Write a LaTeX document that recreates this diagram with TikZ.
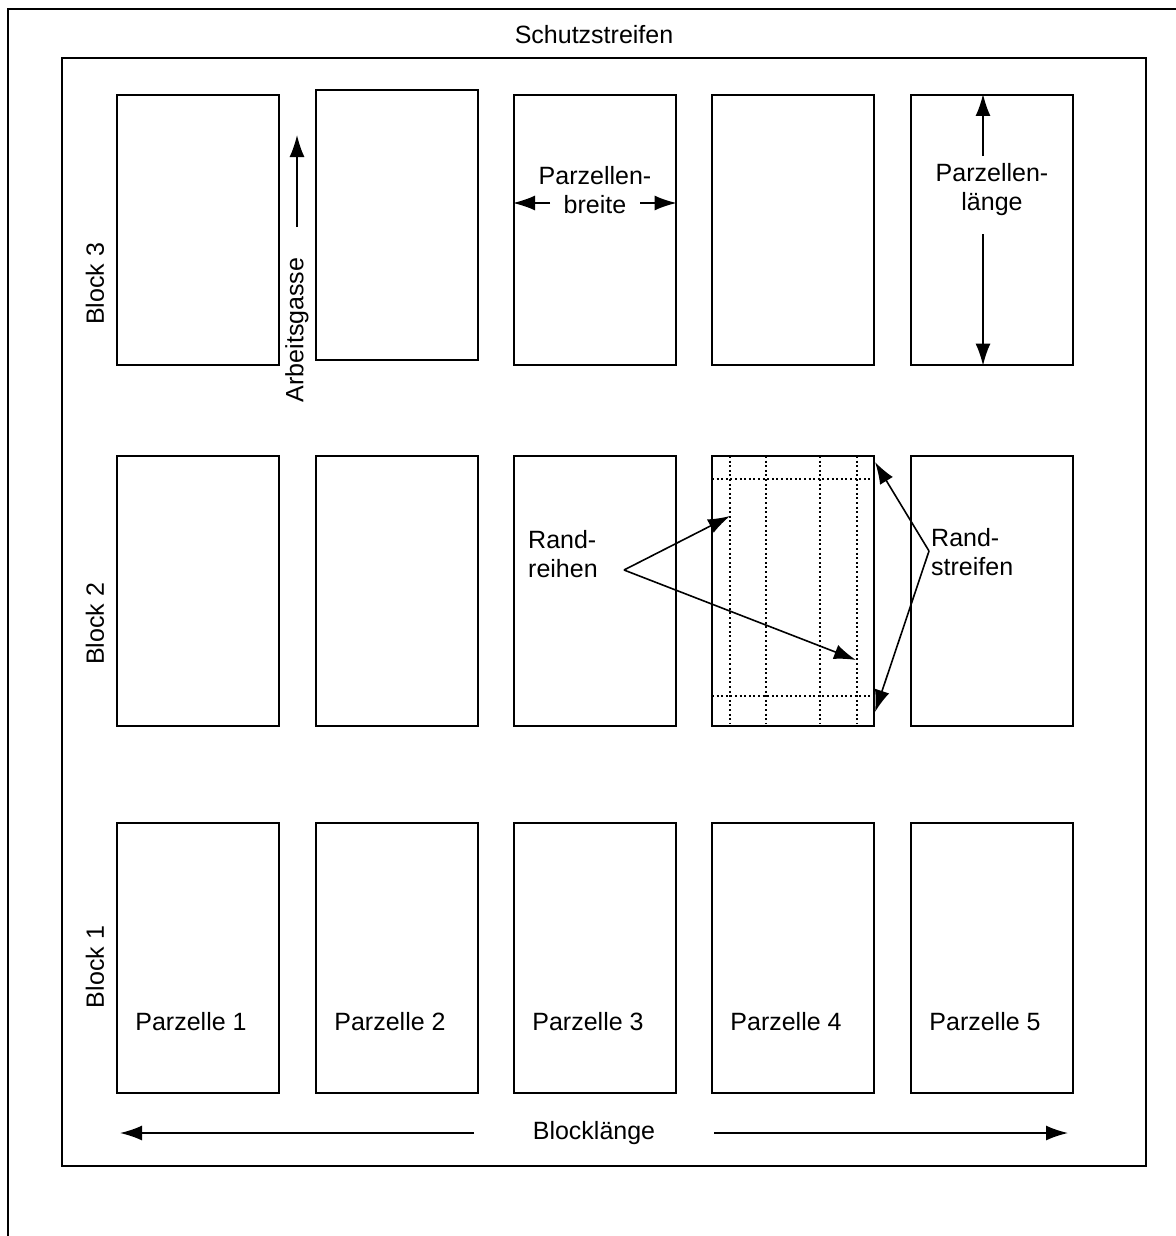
\documentclass[tikz,border=0pt]{standalone}
\usepackage{fontspec}
\setmainfont{Liberation Sans}
\usetikzlibrary{arrows.meta}
\begin{document}
\begin{tikzpicture}[x=1pt,y=-1pt,
  plot/.style={draw,line width=1.6pt,inner sep=0pt,minimum width=162pt,minimum height=270pt,anchor=north west},
  lbl/.style={font=\fontsize{25}{29}\selectfont,inner sep=0pt,align=center},
  arr/.style={line width=1.6pt,-{Latex[length=22pt,width=15pt]}},
  dots/.style={line width=2pt,dash pattern=on 2pt off 2.6pt}]
\useasboundingbox (0,0) rectangle (1175,1236);
% outer frame (cropped)
\draw[line width=2pt] (8,1240) -- (8,9) -- (1180,9);
% inner field
\node[draw,line width=1.6pt,inner sep=0pt,minimum width=1084pt,minimum height=1108pt,anchor=north west] (field) at (61,57) {};
\node[lbl] (schutz) at (594,35) {Schutzstreifen};
% block 3
\node[plot] (p31) at (116,94) {};
\node[plot] (p32) at (315,89) {};
\node[plot] (p33) at (513,94) {};
\node[plot] (p34) at (711,94) {};
\node[plot] (p35) at (910,94) {};
% block 2
\node[plot] (p21) at (116,455) {};
\node[plot] (p22) at (315,455) {};
\node[plot] (p23) at (513,455) {};
\node[plot] (p24) at (711,455) {};
\node[plot] (p25) at (910,455) {};
% block 1
\node[plot] (p11) at (116,822) {};
\node[plot] (p12) at (315,822) {};
\node[plot] (p13) at (513,822) {};
\node[plot] (p14) at (711,822) {};
\node[plot] (p15) at (910,822) {};
% block labels
\node[lbl,rotate=90] (b3) at (95,284) {Block 3};
\node[lbl,rotate=90] (b2) at (95,624) {Block 2};
\node[lbl,rotate=90] (b1) at (95,967) {Block 1};
% plot labels
\node[lbl] (l1) at (191,1022) {Parzelle 1};
\node[lbl] (l2) at (390,1022) {Parzelle 2};
\node[lbl] (l3) at (588,1022) {Parzelle 3};
\node[lbl] (l4) at (786,1022) {Parzelle 4};
\node[lbl] (l5) at (985,1022) {Parzelle 5};
% Arbeitsgasse
\node[lbl,rotate=90] (ag) at (297,330) {Arbeitsgasse};
\coordinate (agA) at (297,227);
\coordinate (agB) at (297,135);
\draw[arr] (agA) -- (agB);
% Parzellenbreite
\node[lbl] (pb) at (595,190) {Parzellen-\\breite};
\coordinate (pbL) at (550,203);
\coordinate (pbR) at (640,203);
\draw[arr] (pbL) -- (p33.west |- pbL);
\draw[arr] (pbR) -- (p33.east |- pbR);
% Parzellenlaenge
\node[lbl] (pl) at (992,190) {Parzellen-\\länge};
\coordinate (plT) at (983,156);
\coordinate (plB) at (983,234);
\draw[arr] (plT) -- (plT |- p35.north);
\draw[arr] (plB) -- (plB |- p35.south);
% dotted rows in plot 4 of block 2
\foreach \x in {730,766,820,857} \draw[dots] (\x,456) -- (\x,724);
\foreach \y in {479,696} \draw[dots] (712,\y) -- (872,\y);
% Randreihen
\node[lbl,anchor=west,align=left] (rr) at (528,554) {Rand-\\reihen};
\coordinate (rrV) at (624,570);
\coordinate (rrA) at (730,516);
\coordinate (rrB) at (856,660);
\draw[arr] (rrV) -- (rrA);
\draw[arr] (rrV) -- (rrB);
% Randstreifen
\node[lbl,anchor=west,align=left] (rs) at (931,552) {Rand-\\streifen};
\coordinate (rsV) at (929,551);
\coordinate (rsA) at (875,462);
\coordinate (rsB) at (875,712);
\draw[arr] (rsV) -- (rsA);
\draw[arr] (rsV) -- (rsB);
% Blocklaenge
\node[lbl] (bl) at (594,1133) {Blocklänge};
\coordinate (blL) at (474,1133);
\coordinate (blR) at (714,1133);
\coordinate (blLe) at (120,1133);
\coordinate (blRe) at (1068,1133);
\draw[arr] (blL) -- (blLe);
\draw[arr] (blR) -- (blRe);
\end{tikzpicture}
\end{document}
